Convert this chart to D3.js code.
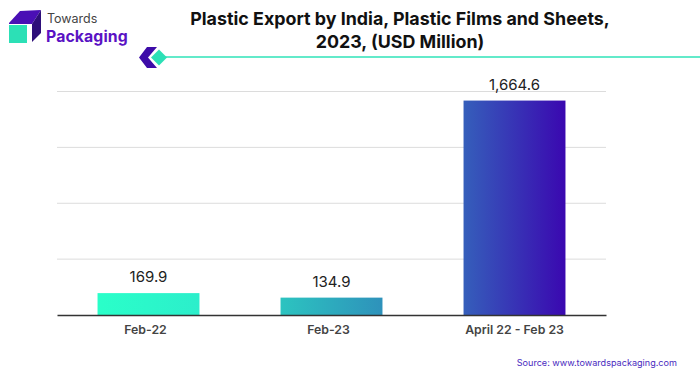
<!DOCTYPE html>
<html>
<head>
<meta charset="utf-8">
<script src="https://d3js.org/d3.v7.min.js"></script>
<style>
  html, body { margin: 0; padding: 0; background: #fff; }
  text { font-family: Inter, "Noto Sans", sans-serif; }
</style>
</head>
<body>
<div id="chart"></div>
<script>
const categories = ["Feb-22", "Feb-23", "April 22 - Feb 23"];
const values = [169.9, 134.9, 1664.6];
const valueLabels = ["169.9", "134.9", "1,664.6"];
const gridTicks = [0, 433.75, 867.5, 1301.25, 1735];
const titleLines = ["Plastic Export by India, Plastic Films and Sheets,", "2023, (USD Million)"];

const width = 700;
const height = 375;
const margin = { top: 91.5, right: 94, bottom: 60, left: 57 };

const svg = d3.select("#chart").append("svg")
  .attr("width", width)
  .attr("height", height)
  .style("display", "block");

// one gradient runs across all three bars
const grad = svg.append("defs").append("linearGradient")
  .attr("id", "barFill")
  .attr("gradientUnits", "userSpaceOnUse")
  .attr("x1", 98).attr("x2", 565).attr("y1", 0).attr("y2", 0);
grad.append("stop").attr("offset", "0").attr("stop-color", "#2affc9");
grad.append("stop").attr("offset", "0.218").attr("stop-color", "#2ceecb");
grad.append("stop").attr("offset", "0.39").attr("stop-color", "#2cc4c0");
grad.append("stop").attr("offset", "0.608").attr("stop-color", "#2e92bb");
grad.append("stop").attr("offset", "0.78").attr("stop-color", "#3560bb");
grad.append("stop").attr("offset", "1").attr("stop-color", "#3a08b0");

const x = d3.scaleBand()
  .domain(categories)
  .range([margin.left, width - margin.right])
  .paddingInner(0.443)
  .paddingOuter(0.2215);

const y = d3.scaleLinear()
  .domain([0, 1735])
  .range([height - margin.bottom, margin.top]);

// gridlines
svg.append("g")
  .selectAll("line")
  .data(gridTicks.slice(1))
  .join("line")
  .attr("x1", margin.left)
  .attr("x2", width - margin.right)
  .attr("y1", d => y(d))
  .attr("y2", d => y(d))
  .attr("stroke", "#dcdcdc")
  .attr("stroke-width", 1);

// bars
svg.append("g")
  .selectAll("rect")
  .data(values)
  .join("rect")
  .attr("x", (d, i) => x(categories[i]))
  .attr("y", d => y(d))
  .attr("width", x.bandwidth())
  .attr("height", d => y(0) - y(d))
  .attr("fill", "url(#barFill)");

// x axis
const xAxis = svg.append("g")
  .attr("transform", `translate(0,${y(0)})`)
  .call(d3.axisBottom(x).tickSize(0).tickPadding(10));
xAxis.select(".domain").attr("stroke", "#333").attr("stroke-width", 1.4);
xAxis.selectAll("text")
  .attr("dx", (d, i) => i < 2 ? -3 : 0) // the two short labels sit a little left of their bars
  .style("font-family", "Inter, sans-serif")
  .style("font-size", "12.3px")
  .style("font-weight", 600)
  .attr("fill", "#444");

// value labels
svg.append("g")
  .selectAll("text")
  .data(values)
  .join("text")
  .attr("x", (d, i) => x(categories[i]) + x.bandwidth() / 2)
  .attr("y", d => y(d) - 11)
  .attr("text-anchor", "middle")
  .attr("font-size", 15)
  .attr("fill", "#222")
  .text((d, i) => valueLabels[i]);

// title
svg.append("g")
  .selectAll("text")
  .data(titleLines)
  .join("text")
  .attr("x", 400)
  .attr("y", (d, i) => 25 + i * 23)
  .attr("text-anchor", "middle")
  .attr("font-size", 17.85)
  .attr("font-weight", 700)
  .attr("fill", "#111")
  .text(d => d);

// rule under the title with its chevron marker
const rule = svg.append("g");
rule.append("line")
  .attr("x1", 160).attr("x2", width)
  .attr("y1", 57).attr("y2", 57)
  .attr("stroke", "#2fe3b8").attr("stroke-width", 1.5);
rule.append("path")
  .attr("d", "M147,47 L157,47 L148,57.5 L157,68 L147,68 L139,57.5 Z")
  .attr("fill", "#3d0ca8");
rule.append("path")
  .attr("d", "M159,49.5 L167,57.5 L159,65.5 L151,57.5 Z")
  .attr("fill", "#2ce0b6");

// logo
const logo = svg.append("g");
logo.append("path")
  .attr("d", "M9,23 L20,11 L41,10 L32,24 L9,24 Z")
  .attr("fill", "#4a0fb5");
logo.append("path")
  .attr("d", "M32,24 L41,10 L41,33 L32,42 Z")
  .attr("fill", "#2e0f7a");
logo.append("rect")
  .attr("x", 9).attr("y", 25).attr("width", 18).attr("height", 18)
  .attr("fill", "#2ce0b6");
logo.append("text")
  .attr("x", 47).attr("y", 23)
  .attr("font-size", 12.5)
  .attr("fill", "#444")
  .text("Towards");
logo.append("text")
  .attr("x", 46).attr("y", 41.5)
  .attr("font-size", 15.8)
  .attr("font-weight", 700)
  .attr("letter-spacing", 0.1)
  .attr("fill", "#5a12c4")
  .text("Packaging");

// source
svg.append("text")
  .attr("x", 677)
  .attr("y", 366)
  .attr("text-anchor", "end")
  .attr("font-size", 9.1)
  .attr("fill", "#4a2bc0")
  .text("Source: www.towardspackaging.com");
</script>
</body>
</html>
